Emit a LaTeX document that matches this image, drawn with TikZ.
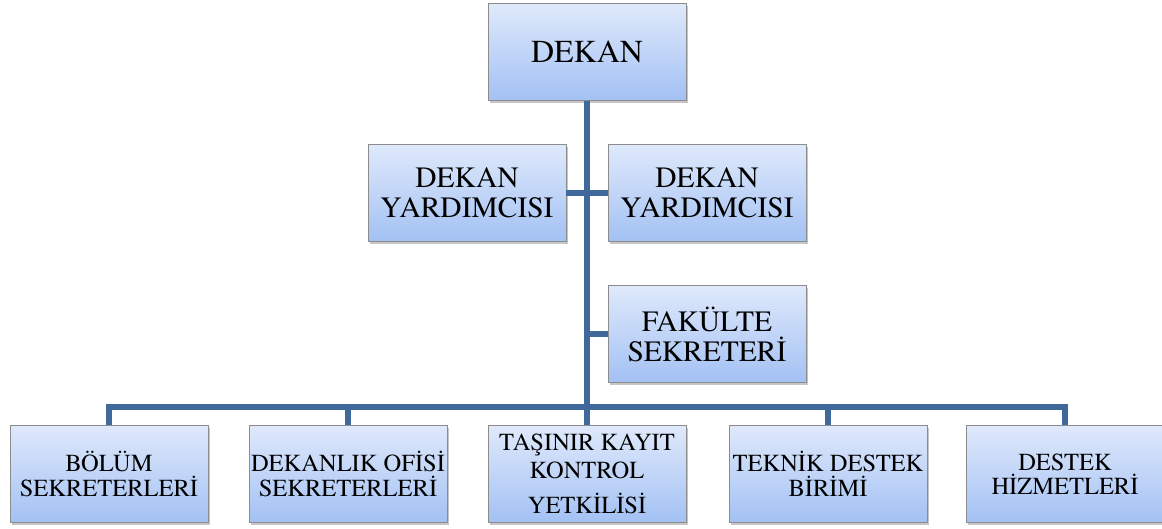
\documentclass[tikz,border=0pt]{standalone}
\usepackage{fontspec}
\setmainfont{TeX Gyre Termes}
\usetikzlibrary{shadows}
\definecolor{boxtop}{RGB}{223,233,251}
\definecolor{boxbot}{RGB}{163,193,244}
\definecolor{boxline}{RGB}{140,140,140}
\definecolor{conn}{RGB}{65,104,154}
\begin{document}
\begin{tikzpicture}[x=1pt,y=-1pt,
  orgbox/.style={draw=boxline, line width=0.8pt, top color=boxtop, bottom color=boxbot,
    minimum width=198pt, minimum height=97pt, inner sep=0pt, align=center,
    drop shadow={shadow xshift=2pt, shadow yshift=-2.5pt, opacity=0.45}},
  bigtxt/.style={font=\rmfamily\fontsize{32}{36}\selectfont},
  midtxt/.style={font=\rmfamily\fontsize{29.5}{30}\selectfont},
  smalltxt/.style={font=\rmfamily\fontsize{24.5}{24.5}\selectfont},
  link/.style={draw=conn, line width=6pt, line join=miter}]
\useasboundingbox (0,0) rectangle (1162,529);
\node[orgbox, bigtxt] (dekan) at (587,52) {DEKAN};
\node[orgbox, midtxt] (dy1) at (467,193) {DEKAN\\YARDIMCISI};
\node[orgbox, midtxt] (dy2) at (707,193) {DEKAN\\YARDIMCISI};
\node[orgbox, midtxt] (fs) at (707,334) {FAKÜLTE\\SEKRETERİ};
\node[orgbox, smalltxt] (b1) at (109,474) {BÖLÜM\\SEKRETERLERİ};
\node[orgbox, smalltxt] (b2) at (348,474) {DEKANLIK OFİSİ\\SEKRETERLERİ};
\node[orgbox, smalltxt] (b3) at (587,474) {TAŞINIR KAYIT\\[3pt]KONTROL\\[11pt]YETKİLİSİ};
\node[orgbox, smalltxt] (b4) at (828,474) {TEKNİK DESTEK\\BİRİMİ};
\node[orgbox, smalltxt] (b5) at (1065,474) {DESTEK\\HİZMETLERİ};
\coordinate (bus) at (587,407);
\draw[link] (dekan.south) -- (b3.north);
\draw[link] (b1.north) -- (b1.north |- bus) -- (b5.north |- bus) -- (b5.north);
\draw[link] (b2.north) -- (b2.north |- bus);
\draw[link] (b4.north) -- (b4.north |- bus);
\draw[link] (dy1.east) -- (dy2.west);
\draw[link] (fs.west) -- (fs.west -| dekan.south);
\end{tikzpicture}
\end{document}
